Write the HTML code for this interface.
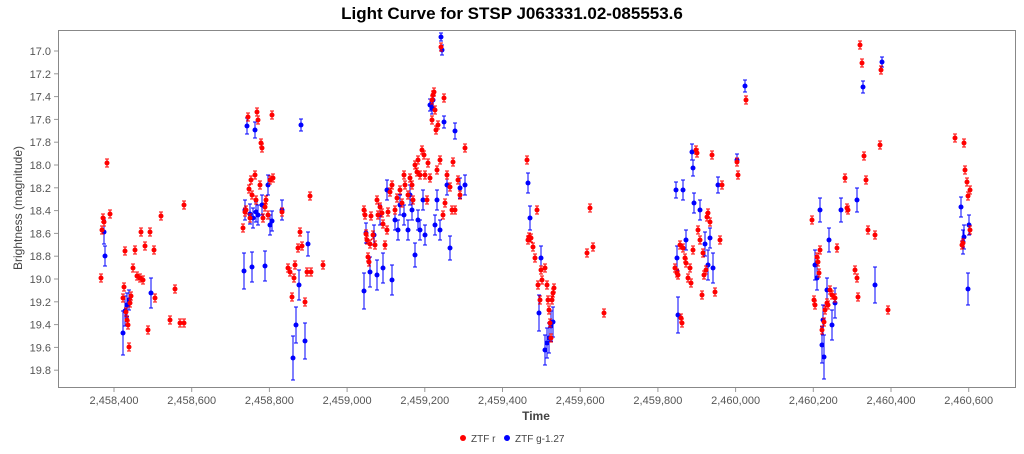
<!DOCTYPE html>
<html><head><meta charset="utf-8"><style>
body{margin:0;background:#fff;font-family:"Liberation Sans",sans-serif}
svg text{font-family:"Liberation Sans",sans-serif}
</style></head><body>
<svg id="s" width="1024" height="449" xmlns="http://www.w3.org/2000/svg">
<rect width="1024" height="449" fill="#fff"/>
<text x="512" y="19" text-anchor="middle" font-size="17" font-weight="bold">Light Curve for STSP J063331.02-085553.6</text>
<rect x="58.5" y="30.5" width="957" height="357" fill="#fff" stroke="#888"/>
<g id="ax" font-size="11" fill="#555"></g>
<text x="536" y="420" text-anchor="middle" font-size="12" font-weight="bold" fill="#444">Time</text>
<text transform="translate(22,208) rotate(-90)" text-anchor="middle" font-size="12" fill="#444">Brightness (magnitude)</text>
<g id="pts"></g>
<circle cx="463" cy="438" r="3" fill="red"/><text x="471" y="442" font-size="10" fill="#444">ZTF r</text>
<circle cx="507" cy="438" r="3" fill="blue"/><text x="515" y="442" font-size="10" fill="#444">ZTF g-1.27</text>
</svg>
<script>
var ns="http://www.w3.org/2000/svg",ax=document.getElementById("ax"),P=document.getElementById("pts");
function el(t,a,p){var e=document.createElementNS(ns,t);for(var k in a)e.setAttribute(k,a[k]);(p||P).appendChild(e);return e;}
for(var i=0;i<=14;i++){var y=51+i*22.8;el("line",{x1:54,x2:58,y1:y,y2:y,stroke:"#999"},ax);var t=el("text",{x:51,y:y+4,"text-anchor":"end"},ax);t.textContent=(17+i*0.2).toFixed(1);}
for(var i=0;i<=11;i++){var x=114+i*77.7;el("line",{x1:x,x2:x,y1:388,y2:392,stroke:"#999"},ax);var t=el("text",{x:x,y:404,"text-anchor":"middle"},ax);var v=2458400+i*200;t.textContent=v.toString().replace(/\B(?=(\d{3})+(?!\d))/g,",");}
var R=[[102,230],[103,218],[104,222],[107,163],[110,214],[101,278],[123,298],[124,287],[125,251],[126,312],[127,320],[128,325],[129,347],[130,303],[131,296],[133,268],[135,250],[137,276],[140,278],[141,232],[143,280],[145,246],[148,330],[150,232],[154,250],[155,298],[161,216],[170,320],[175,289],[180,323],[184,323],[184,205],
[243,228],[245,212],[246,210],[248,117],[249,189],[250,218],[251,180],[252,195],[255,175],[256,200],[257,112],[258,120],[260,185],[261,143],[262,148],[263,218],[265,207],[266,200],[268,215],[270,180],[272,115],[273,178],[282,212],[288,268],[290,272],[292,297],[294,278],[295,265],[298,248],[300,232],[302,246],[305,302],[307,272],[310,196],[311,272],[323,265],
[364,210],[365,215],[366,234],[367,240],[368,257],[369,262],[370,244],[371,216],[373,235],[375,245],[377,200],[378,215],[380,207],[382,213],[383,224],[385,245],[387,230],[388,212],[390,192],[392,185],[395,210],[397,198],[400,190],[402,203],[404,175],[405,185],[408,195],[410,178],[412,185],[413,200],[415,165],[417,172],[418,160],[420,175],[422,150],[424,155],[425,175],[427,200],[428,163],[430,178],[432,100],[432,120],[433,95],[434,92],[435,110],[436,130],[437,170],[438,125],[440,160],[441,47],[443,215],[444,98],[445,203],[447,175],[450,187],[452,210],[453,162],[455,210],[458,180],[460,195],[465,148],
[527,160],[528,240],[529,237],[531,238],[533,247],[535,258],[537,210],[538,285],[540,300],[541,270],[542,280],[545,268],[547,285],[548,300],[549,310],[550,323],[551,338],[552,300],[553,293],[554,288],[587,253],[590,208],[593,247],[604,313],
[675,268],[677,273],[678,275],[680,245],[681,318],[682,323],[683,248],[685,258],[686,263],[688,278],[690,268],[691,283],[693,250],[696,150],[697,153],[698,230],[700,240],[702,295],[703,253],[704,275],[706,270],[707,217],[708,213],[710,222],[712,155],[715,292],[720,240],[722,185],[737,162],[738,175],[746,100],
[812,220],[814,300],[815,305],[817,257],[818,262],[819,273],[820,250],[822,330],[824,322],[825,310],[827,303],[828,305],[830,290],[832,295],[835,298],[837,248],[845,178],[847,208],[848,210],[855,270],[857,278],[858,297],[860,45],[862,63],[864,156],[866,180],[868,230],[875,235],[880,145],[881,70],[888,310],
[955,138],[964,143],[965,170],[967,182],[968,196],[970,190],[970,230],[962,245],[963,243]];
var B=[[104,232,12],[105,256,10],[123,333,22],[125,311,15],[127,305,12],[129,300,10],[151,293,15],
[244,271,18],[245,210,10],[247,126,8],[250,214,10],[252,267,15],[253,218,10],[255,130,8],[256,212,10],[258,215,10],[262,205,10],[265,266,15],[268,185,10],[270,225,10],[272,221,10],[282,210,10],[293,358,22],[296,325,18],[299,285,15],[301,125,6],[305,341,18],[308,244,12],
[364,291,18],[366,233,10],[370,272,15],[374,235,10],[377,275,15],[380,215,10],[383,268,15],[387,190,10],[392,280,15],[395,220,10],[398,230,10],[400,205,10],[404,215,10],[408,230,10],[410,195,10],[412,210,10],[415,255,12],[418,220,10],[420,230,10],[423,200,10],[425,235,10],[430,105,6],[432,108,6],[433,100,6],[435,225,10],[437,200,10],[440,230,10],[441,37,4],[442,50,5],[444,122,6],[447,185,10],[450,248,12],[455,131,8],[460,188,10],[465,185,10],
[528,183,10],[530,218,12],[539,313,18],[541,258,12],[545,350,15],[547,343,15],[549,338,15],[551,326,15],[553,322,15],
[676,190,8],[677,258,12],[678,315,18],[683,190,10],[686,240,10],[692,152,8],[693,168,8],[694,203,10],[700,210,10],[705,244,12],[708,265,15],[710,238,10],[713,268,15],[718,185,8],[737,160,6],[745,86,6],
[815,265,15],[817,278,12],[820,210,12],[822,345,18],[823,320,15],[824,357,22],[827,290,12],[829,240,12],[832,325,15],[835,303,15],[841,210,12],[857,200,12],[863,87,6],[875,285,18],[882,62,5],
[961,207,10],[963,242,12],[964,237,12],[968,289,16],[969,225,10]];
function draw(a,c,def){a.forEach(function(p){var e=p[2]||def;el("line",{x1:p[0],x2:p[0],y1:p[1]-e,y2:p[1]+e,stroke:c,"stroke-width":1});el("line",{x1:p[0]-2,x2:p[0]+2,y1:p[1]-e,y2:p[1]-e,stroke:c});el("line",{x1:p[0]-2,x2:p[0]+2,y1:p[1]+e,y2:p[1]+e,stroke:c});el("circle",{cx:p[0],cy:p[1],r:2.5,fill:c});});}
draw(B,"blue",10);draw(R,"red",4);
</script>
</body></html>
